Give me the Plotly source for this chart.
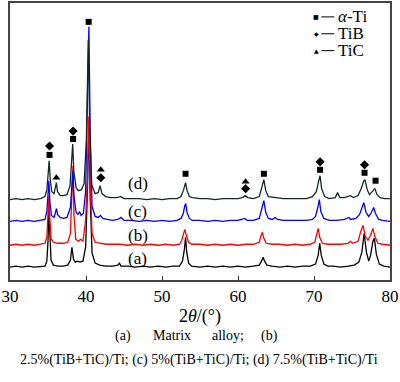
import plotly.graph_objects as go

# ---- data (2theta in degrees, intensity in arbitrary units above each pattern's baseline) ----
a_x = [30.0, 30.8, 31.6, 32.4, 33.2, 34.0, 34.6, 34.85, 35.0, 35.12, 35.25, 35.4, 35.7, 36.3, 37.0, 37.6,
       37.95, 38.15, 38.35, 38.6, 38.9, 39.2, 39.6, 39.95, 40.2, 40.38, 40.55, 40.8, 41.2, 41.8, 42.6, 43.5,
       44.2, 44.4, 44.6, 45.5, 46.5, 47.5, 48.5, 49.5, 50.5, 51.5, 52.3, 52.7, 52.95, 53.1, 53.25, 53.5, 53.9,
       55.0, 56.0, 57.0, 58.0, 59.0, 60.0, 61.0, 62.0, 62.8, 63.1, 63.3, 63.5, 63.8, 64.5, 65.5, 66.5, 67.5,
       68.5, 69.5, 70.2, 70.55, 70.75, 70.95, 71.3, 71.8, 72.5, 73.5, 74.5, 75.3, 75.9, 76.3, 76.6, 76.9,
       77.2, 77.45, 77.75, 77.95, 78.2, 78.6, 79.2, 80.0]
a_y = [0, 1, 0, 1, 0, 1, 1, 6, 26, 57, 26, 7, 2, 1, 1, 2,
       7, 20, 8, 5, 6, 5, 6, 20, 80, 147, 70, 14, 4, 2, 1, 1,
       2, 4, 1, 1, 0, 1, 0, 1, 0, 1, 1, 6, 18, 30, 15, 4, 1,
       0, 1, 0, 1, 0, 1, 0, 1, 2, 6, 10, 6, 2, 1, 0, 1, 0,
       1, 1, 3, 12, 24, 12, 3, 1, 1, 0, 1, 2, 5, 15, 34, 15,
       6, 12, 26, 29, 13, 3, 1, 0]

b_x = [30.0, 30.8, 31.6, 32.4, 33.2, 34.0, 34.6, 34.85, 35.0, 35.12, 35.25, 35.4, 35.7, 36.3, 37.0, 37.6,
       37.95, 38.15, 38.28, 38.42, 38.65, 39.0, 39.3, 39.6, 39.95, 40.2, 40.38, 40.55, 40.8, 41.2, 41.8,
       42.6, 43.5, 44.5, 45.5, 46.5, 47.5, 48.5, 49.5, 50.5, 51.5, 52.3, 52.6, 52.85, 53.0, 53.2, 53.5, 53.9,
       55.0, 56.0, 57.0, 58.0, 59.0, 60.0, 61.0, 62.0, 62.8, 63.05, 63.2, 63.4, 63.7, 64.5, 65.5, 66.5, 67.5,
       68.5, 69.5, 70.1, 70.4, 70.55, 70.75, 71.1, 71.8, 72.5, 73.5, 74.5, 74.8, 75.1, 75.8, 76.15, 76.45,
       76.75, 77.1, 77.45, 77.75, 78.0, 78.4, 79.0, 80.0]
b_y = [0, 1, 0, 1, 0, 1, 2, 8, 28, 50, 25, 7, 3, 2, 2, 3,
       12, 50, 80, 30, 6, 4, 6, 4, 25, 70, 130, 60, 12, 3, 2,
       1, 1, 1, 0, 1, 0, 1, 0, 1, 0, 1, 5, 13, 16, 10, 3, 1,
       1, 0, 1, 0, 1, 0, 1, 1, 3, 10, 13, 7, 2, 1, 1, 0, 1,
       0, 1, 3, 12, 17, 8, 2, 1, 1, 1, 2, 4, 2, 4, 14, 20,
       9, 5, 10, 17, 9, 2, 1, 0]

c_x = [30.0, 30.8, 31.6, 32.4, 33.2, 34.0, 34.6, 34.85, 35.0, 35.12, 35.25, 35.45, 35.8, 36.0, 36.12, 36.25,
       36.6, 37.0, 37.5, 37.95, 38.15, 38.28, 38.42, 38.7, 38.95, 39.15, 39.35, 39.65, 39.95, 40.2, 40.38,
       40.55, 40.8, 41.2, 41.6, 41.9, 42.2, 42.8, 43.5, 44.2, 44.6, 45.0, 46.0, 47.0, 48.0, 49.0, 50.0, 51.0,
       52.0, 52.5, 52.8, 53.0, 53.12, 53.3, 53.6, 54.0, 55.0, 56.0, 57.0, 58.0, 59.0, 60.0, 60.6, 60.9, 61.2,
       62.0, 62.8, 63.15, 63.4, 63.65, 64.0, 64.5, 64.9, 65.2, 66.0, 67.0, 68.0, 69.0, 69.8, 70.2, 70.5,
       70.7, 70.9, 71.3, 72.0, 73.0, 74.0, 74.6, 74.8, 75.5, 76.0, 76.3, 76.55, 76.85, 77.2, 77.55, 77.85,
       78.1, 78.5, 79.0, 80.0]
c_y = [0, 1, 0, 1, 0, 1, 2, 10, 25, 41, 20, 6, 4, 9, 13, 7,
       4, 3, 4, 14, 35, 51, 25, 9, 7, 10, 6, 8, 30, 110, 196,
       90, 15, 5, 4, 6, 3, 2, 1, 2, 4, 1, 1, 0, 1, 0, 1, 0,
       1, 3, 8, 16, 18, 9, 3, 1, 1, 0, 1, 0, 1, 1, 2, 3, 1,
       1, 3, 12, 21, 9, 3, 2, 4, 2, 1, 1, 1, 1, 2, 5, 14,
       22, 10, 3, 1, 1, 2, 4, 2, 3, 7, 15, 19, 9, 5, 9, 14,
       8, 2, 1, 0]

d_x = [30.0, 30.8, 31.6, 32.4, 33.2, 34.0, 34.6, 34.85, 35.0, 35.15, 35.3, 35.5, 35.8, 35.98, 36.1, 36.25,
       36.6, 37.0, 37.5, 37.9, 38.1, 38.25, 38.4, 38.7, 39.0, 39.4, 39.75, 40.05, 40.3, 40.5, 40.75, 41.2,
       41.6, 41.85, 42.1, 42.6, 43.2, 44.0, 44.6, 45.0, 46.0, 47.0, 48.0, 49.0, 50.0, 51.0, 52.0, 52.5, 52.85,
       53.1, 53.3, 53.6, 54.0, 55.0, 56.0, 57.0, 58.0, 59.0, 60.0, 60.6, 60.95, 61.3, 62.0, 62.8, 63.15,
       63.4, 63.65, 64.0, 65.0, 66.0, 67.0, 68.0, 69.0, 69.8, 70.3, 70.6, 70.8, 71.0, 71.4, 72.0, 72.8,
       73.1, 73.4, 74.0, 74.5, 74.8, 75.2, 75.8, 76.2, 76.5, 76.7, 77.0, 77.3, 77.75, 78.0, 78.3, 78.7,
       79.3, 80.0]
d_y = [0, 1, 0, 1, 0, 1, 3, 10, 24, 39, 20, 8, 6, 12, 17, 8,
       4, 4, 5, 14, 35, 56, 28, 12, 9, 10, 16, 60, 161, 70, 15, 6,
       7, 14, 6, 3, 2, 2, 3, 1, 1, 1, 0, 1, 0, 1, 1, 3, 10,
       17, 9, 3, 2, 1, 1, 0, 1, 1, 1, 2, 4, 2, 1, 3, 12,
       20, 9, 3, 2, 1, 1, 1, 1, 3, 8, 18, 24, 11, 3, 1, 2,
       7, 2, 2, 3, 4, 2, 4, 11, 18, 20, 10, 5, 9, 11, 5, 2,
       1, 1]

series_labels = ["(a)", "(b)", "(c)", "(d)"]
series_colors = ["#000000", "#ff0000", "#0000ff", "#102a22"]
series_offsets = [13, 35, 59, 81]

# phase markers (peak position, marker height)
ti_x = [35.2, 38.3, 40.35, 53.1, 63.4, 70.8, 76.65, 78.1]
ti_y = [126, 142, 260, 107, 107, 111, 108, 100]
tib_x = [35.2, 38.3, 41.95, 61.0, 70.8, 76.65]
tib_y = [135, 150, 103, 92, 119, 116]
tic_x = [36.1, 41.95, 61.0]
tic_y = [103, 111, 99]

# ---- figure ----
W, H = 400, 382
L, R, T, B = 9, 9, 1, 102
pw, ph = W - L - R, H - T - B

def px(x):
    return (x - L) / pw

def py(y):
    return (H - B - y) / ph

SERIF = "Liberation Serif"

fig = go.Figure()
for xs, ys, col, off in zip([a_x, b_x, c_x, d_x], [a_y, b_y, c_y, d_y], series_colors, series_offsets):
    fig.add_trace(go.Scatter(x=xs, y=[v + off for v in ys], mode="lines",
                             line=dict(color=col, width=1.3), showlegend=False, hoverinfo="skip"))

fig.add_trace(go.Scatter(x=ti_x, y=ti_y, mode="markers", showlegend=False,
                         marker=dict(symbol="square", size=6, color="black")))
fig.add_trace(go.Scatter(x=tib_x, y=tib_y, mode="markers", showlegend=False,
                         marker=dict(symbol="diamond", size=7, color="black")))
fig.add_trace(go.Scatter(x=tic_x, y=tic_y, mode="markers", showlegend=False,
                         marker=dict(symbol="triangle-up", size=7, color="black")))

# series labels
label_y = [22, 45, 69, 97]
for lab, yv in zip(series_labels, label_y):
    fig.add_annotation(x=46.8, y=yv, text=lab, showarrow=False,
                       font=dict(family=SERIF, size=17, color="black"))

# legend (manual)
leg_rows = [("■", "<i>α</i>-Ti", 15), ("◆", "TiB", 32), ("▲", "TiC", 49)]
for sym, txt, yy in leg_rows:
    fig.add_annotation(xref="paper", yref="paper", x=px(317), y=py(yy), text=sym, showarrow=False,
                       font=dict(family="DejaVu Sans", size=6, color="black"), xanchor="center", yanchor="middle")
    fig.add_shape(type="line", xref="paper", yref="paper", x0=px(322), x1=px(335), y0=py(yy), y1=py(yy),
                  line=dict(color="black", width=1))
    fig.add_annotation(xref="paper", yref="paper", x=px(337), y=py(yy), text=txt, showarrow=False,
                       font=dict(family=SERIF, size=17, color="black"), xanchor="left", yanchor="middle")

# caption
cap1 = [("(a)", 123), ("Matrix", 172), ("alloy;", 228), ("(b)", 270)]
for t, xx in cap1:
    fig.add_annotation(xref="paper", yref="paper", x=px(xx), y=py(336), text=t, showarrow=False,
                       font=dict(family=SERIF, size=14, color="black"), xanchor="center", yanchor="middle")
fig.add_annotation(xref="paper", yref="paper", x=px(199), y=py(361),
                   text="2.5%(TiB+TiC)/Ti; (c) 5%(TiB+TiC)/Ti; (d) 7.5%(TiB+TiC)/Ti", showarrow=False,
                   font=dict(family=SERIF, size=14, color="black"), xanchor="center", yanchor="middle")

fig.update_layout(
    width=W, height=H, margin=dict(l=L, r=R, t=T, b=B),
    paper_bgcolor="white", plot_bgcolor="white",
    font=dict(family=SERIF, color="black"),
)
fig.update_xaxes(range=[30, 80], tickvals=[30, 40, 50, 60, 70, 80], ticks="inside", ticklen=4,
                 tickcolor="#333", tickwidth=1, showline=True, linecolor="#444", linewidth=1.5, mirror=True,
                 showgrid=False, zeroline=False, tickfont=dict(family=SERIF, size=17, color="black"),
                 title=dict(text="2<i>θ</i>/(°)", font=dict(family=SERIF, size=18, color="black"), standoff=4))
fig.update_yaxes(range=[0, 279], showticklabels=False, ticks="", showline=True, linecolor="#444",
                 linewidth=1.5, mirror=True, showgrid=False, zeroline=False)

fig.write_html("out.html", config={"displayModeBar": False},
               post_script="document.body.style.margin='0';document.body.style.padding='0';")
